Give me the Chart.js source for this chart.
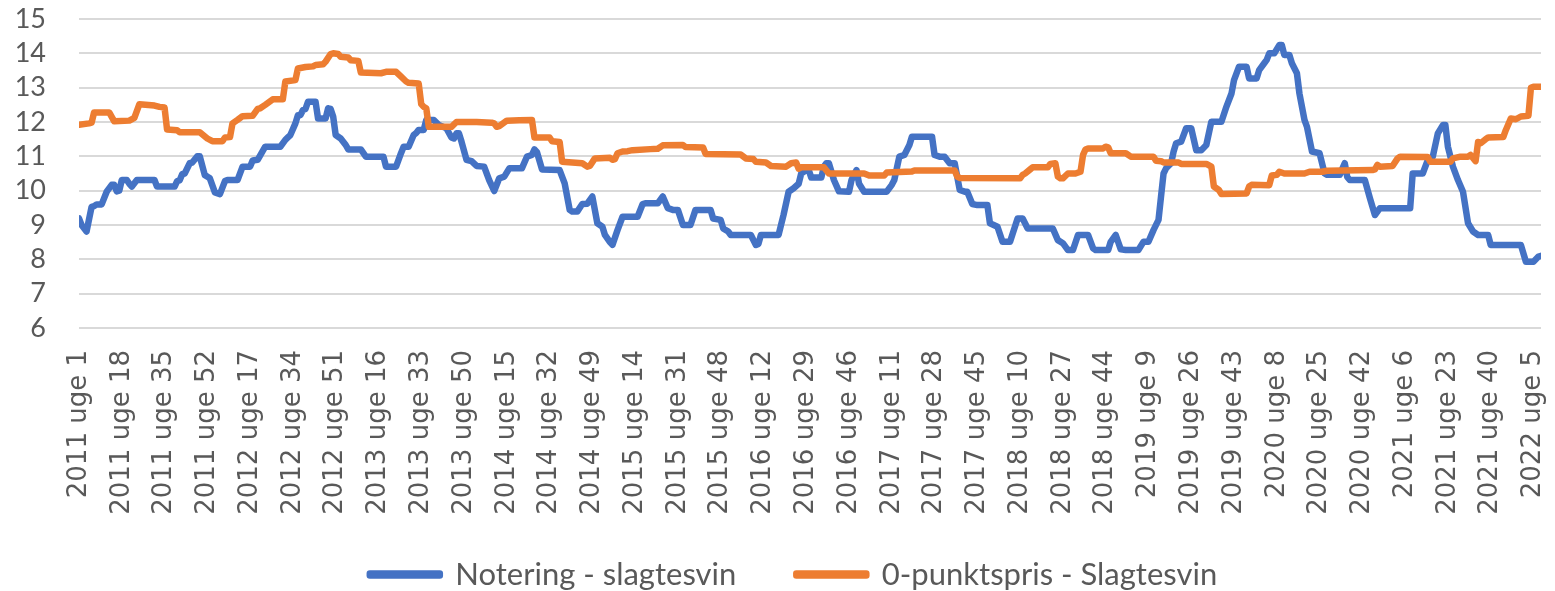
<!DOCTYPE html>
<html>
<head>
<meta charset="utf-8">
<script src="https://cdn.jsdelivr.net/npm/chart.js@4.4.0/dist/chart.umd.min.js"></script>
<style>
  html, body { margin: 0; padding: 0; background: #fff; }
</style>
</head>
<body>
<canvas id="chartLine" width="1555" height="591"></canvas>
<script>
// tick labels every 17 weeks, week index 0 = 2011 uge 1
const weekLabels = [
  "2011 uge 1", "2011 uge 18", "2011 uge 35", "2011 uge 52",
  "2012 uge 17", "2012 uge 34", "2012 uge 51",
  "2013 uge 16", "2013 uge 33", "2013 uge 50",
  "2014 uge 15", "2014 uge 32", "2014 uge 49",
  "2015 uge 14", "2015 uge 31", "2015 uge 48",
  "2016 uge 12", "2016 uge 29", "2016 uge 46",
  "2017 uge 11", "2017 uge 28", "2017 uge 45",
  "2018 uge 10", "2018 uge 27", "2018 uge 44",
  "2019 uge 9", "2019 uge 26", "2019 uge 43",
  "2020 uge 8", "2020 uge 25", "2020 uge 42",
  "2021 uge 6", "2021 uge 23", "2021 uge 40",
  "2022 uge 5"
];
const labelStep = 17;
const lastWeek = 581;

const noteringPoints = [
  [0, 9.19], [1, 9.0], [3, 8.81], [5, 9.53], [6, 9.55], [7, 9.6], [9, 9.6], [11, 9.97],
  [13, 10.17], [14, 10.17], [15, 9.98], [16, 10.0], [17, 10.31], [19, 10.31], [20, 10.2],
  [21, 10.12], [23, 10.31], [30, 10.31], [31, 10.12], [38, 10.12], [39, 10.28], [40, 10.3],
  [41, 10.48], [42, 10.5], [44, 10.8], [45, 10.82], [47, 11.0], [48, 11.0], [50, 10.45],
  [51, 10.41], [52, 10.36], [54, 9.95], [56, 9.9], [58, 10.28], [59, 10.31], [63, 10.31],
  [65, 10.7], [68, 10.7], [69, 10.88], [71, 10.9], [74, 11.28], [80, 11.28], [82, 11.48],
  [83, 11.55], [84, 11.62], [86, 11.96], [87, 12.2], [88, 12.2], [89, 12.35], [90, 12.38],
  [91, 12.59], [94, 12.59], [95, 12.1], [98, 12.1], [99, 12.4], [100, 12.38], [101, 12.16],
  [102, 11.62], [104, 11.52], [106, 11.33], [107, 11.2], [112, 11.2], [114, 10.99],
  [121, 10.99], [122, 10.7], [126, 10.7], [128, 11.1], [129, 11.28], [131, 11.28],
  [133, 11.62], [134, 11.68], [135, 11.77], [137, 11.77], [138, 12.06], [141, 12.06],
  [143, 11.91], [146, 11.82], [148, 11.55], [149, 11.52], [150, 11.67], [151, 11.67],
  [152, 11.43], [154, 10.9], [156, 10.86], [158, 10.72], [161, 10.7], [163, 10.31],
  [165, 9.99], [167, 10.36], [169, 10.41], [171, 10.65], [176, 10.65], [178, 10.99],
  [180, 11.04], [181, 11.2], [182, 11.12], [184, 10.62], [191, 10.6], [193, 10.21],
  [195, 9.44], [196, 9.39], [198, 9.39], [200, 9.61], [202, 9.62], [204, 9.83], [206, 9.05],
  [208, 8.95], [209, 8.71], [211, 8.5], [212, 8.42], [214, 8.85], [216, 9.24], [222, 9.24],
  [224, 9.61], [225, 9.63], [230, 9.63], [232, 9.83], [234, 9.49], [236, 9.44], [238, 9.44],
  [240, 9.0], [243, 9.0], [245, 9.44], [251, 9.44], [252, 9.19], [255, 9.15], [256, 8.9],
  [258, 8.81], [259, 8.71], [267, 8.71], [269, 8.42], [270, 8.45], [271, 8.71], [278, 8.71],
  [280, 9.3], [282, 9.97], [284, 10.07], [286, 10.2], [287, 10.5], [289, 10.6], [290, 10.6],
  [291, 10.38], [295, 10.38], [296, 10.7], [297, 10.8], [298, 10.8], [300, 10.31],
  [302, 9.98], [306, 9.97], [307, 10.31], [309, 10.6], [310, 10.2], [312, 9.97], [321, 9.97],
  [323, 10.17], [324, 10.31], [326, 10.99], [328, 11.04], [330, 11.33], [331, 11.57],
  [339, 11.57], [340, 11.04], [342, 10.99], [344, 10.99], [346, 10.8], [348, 10.8],
  [350, 10.02], [352, 9.97], [353, 9.97], [355, 9.61], [357, 9.58], [361, 9.58], [362, 9.05],
  [365, 8.95], [367, 8.51], [370, 8.51], [373, 9.19], [375, 9.19], [377, 8.9], [387, 8.9],
  [389, 8.56], [391, 8.47], [393, 8.27], [395, 8.27], [397, 8.71], [401, 8.71], [403, 8.32],
  [404, 8.27], [409, 8.27], [410, 8.51], [412, 8.71], [414, 8.29], [416, 8.27], [421, 8.27],
  [423, 8.51], [425, 8.51], [427, 8.85], [429, 9.15], [430, 9.83], [431, 10.5], [432, 10.65],
  [434, 10.8], [435, 11.14], [436, 11.38], [438, 11.43], [440, 11.82], [442, 11.82],
  [444, 11.18], [446, 11.18], [448, 11.33], [450, 12.01], [454, 12.01], [456, 12.45],
  [458, 12.83], [459, 13.22], [461, 13.61], [464, 13.61], [465, 13.27], [468, 13.27],
  [469, 13.51], [471, 13.71], [472, 13.81], [473, 14.0], [475, 14.0], [477, 14.24],
  [478, 14.24], [479, 13.95], [481, 13.95], [482, 13.71], [484, 13.42], [485, 12.83],
  [487, 12.06], [488, 11.86], [490, 11.14], [493, 11.09], [495, 10.5], [496, 10.46],
  [501, 10.46], [503, 10.8], [504, 10.4], [505, 10.31], [511, 10.31], [513, 9.78],
  [515, 9.29], [517, 9.49], [529, 9.49], [530, 10.5], [534, 10.5], [536, 10.89], [538, 10.99],
  [540, 11.67], [542, 11.91], [543, 11.91], [544, 11.28], [546, 10.7], [548, 10.31],
  [550, 9.97], [552, 9.05], [554, 8.81], [556, 8.71], [560, 8.71], [561, 8.42], [573, 8.42],
  [575, 7.93], [578, 7.93], [580, 8.08], [581, 8.1]
];

const nulpunktPoints = [
  [0, 11.92], [4, 11.96], [5, 11.98], [6, 12.28], [12, 12.28], [14, 12.02], [20, 12.04],
  [22, 12.12], [24, 12.52], [30, 12.48], [32, 12.44], [34, 12.42], [35, 11.78], [39, 11.76],
  [40, 11.7], [48, 11.7], [51, 11.52], [53, 11.44], [57, 11.44], [58, 11.55], [60, 11.56],
  [61, 11.96], [63, 12.06], [65, 12.17], [69, 12.18], [71, 12.38], [72, 12.4], [74, 12.5],
  [77, 12.66], [81, 12.66], [82, 13.18], [86, 13.22], [87, 13.56], [90, 13.6], [93, 13.62],
  [94, 13.66], [97, 13.68], [98, 13.76], [100, 13.98], [101, 14.0], [103, 13.98],
  [104, 13.9], [107, 13.88], [108, 13.8], [111, 13.78], [112, 13.44], [120, 13.42],
  [122, 13.46], [126, 13.46], [128, 13.32], [130, 13.18], [131, 13.14], [135, 13.12],
  [136, 12.52], [137, 12.44], [138, 12.4], [139, 11.86], [148, 11.86], [150, 12.0],
  [158, 12.0], [164, 11.98], [165, 11.96], [166, 11.86], [167, 11.88], [170, 12.04],
  [175, 12.05], [180, 12.06], [181, 11.55], [187, 11.55], [188, 11.44], [191, 11.42],
  [192, 10.84], [200, 10.8], [202, 10.7], [203, 10.72], [205, 10.94], [211, 10.96],
  [212, 10.9], [213, 10.92], [214, 11.09], [216, 11.14], [218, 11.15], [220, 11.18],
  [227, 11.21], [230, 11.22], [232, 11.32], [240, 11.33], [241, 11.27], [248, 11.26],
  [249, 11.07], [263, 11.05], [265, 10.94], [268, 10.92], [269, 10.84], [273, 10.82],
  [275, 10.72], [281, 10.7], [283, 10.8], [285, 10.82], [286, 10.64], [287, 10.68],
  [296, 10.68], [298, 10.5], [312, 10.5], [314, 10.44], [320, 10.44], [321, 10.53],
  [331, 10.56], [332, 10.59], [348, 10.59], [349, 10.41], [350, 10.37], [374, 10.36],
  [375, 10.46], [376, 10.5], [378, 10.62], [379, 10.68], [385, 10.68], [386, 10.78],
  [388, 10.8], [389, 10.41], [390, 10.36], [391, 10.36], [393, 10.5], [396, 10.5],
  [398, 10.55], [399, 11.04], [400, 11.2], [401, 11.23], [407, 11.23], [408, 11.28],
  [409, 11.26], [410, 11.09], [416, 11.09], [418, 10.99], [427, 10.99], [428, 10.87],
  [430, 10.86], [431, 10.82], [437, 10.82], [438, 10.78], [448, 10.78], [450, 10.7],
  [451, 10.12], [453, 10.02], [454, 9.9], [464, 9.92], [465, 10.12], [466, 10.17],
  [473, 10.16], [474, 10.44], [476, 10.46], [477, 10.55], [479, 10.5], [487, 10.5],
  [489, 10.55], [494, 10.55], [496, 10.58], [514, 10.6], [515, 10.62], [516, 10.75],
  [517, 10.7], [522, 10.72], [524, 10.94], [525, 10.99], [536, 10.98], [537, 10.84],
  [545, 10.84], [546, 10.94], [549, 10.99], [552, 10.99], [553, 11.04], [555, 10.86],
  [556, 11.42], [557, 11.38], [559, 11.5], [560, 11.55], [566, 11.56], [567, 11.76],
  [569, 12.1], [571, 12.08], [573, 12.16], [576, 12.18], [577, 13.0], [578, 13.03],
  [581, 13.03]
];

const yMin = 6;
const yMax = 15;

const blue = "#4472C4";
const orange = "#ED7D31";
const textGrey = "#595959";

Chart.defaults.font.family = "'DejaVu Sans', sans-serif";
Chart.defaults.font.size = 26;
Chart.defaults.color = textGrey;

// Excel puts the legend higher and a bit right of where Chart.js stacks it
const legendOffset = {
  id: "legendOffset",
  afterLayout: chartInstance => {
    const legend = chartInstance.legend;
    legend.left += 23;
    legend.right += 23;
    legend.top -= 21;
    legend.height = legend.bottom - legend.top;
  },
};

const chart = document.getElementById("chartLine").getContext("2d");

const priceChart = new Chart(chart, {
  type: "line",
  data: {
    datasets: [
      {
        label: "Notering - slagtesvin",
        data: noteringPoints,
        borderColor: blue,
        backgroundColor: blue,
        order: 2,
      },
      {
        label: "0-punktspris - Slagtesvin",
        data: nulpunktPoints,
        borderColor: orange,
        backgroundColor: orange,
        order: 1,
      },
    ],
  },
  plugins: [legendOffset],
  options: {
    responsive: false,
    animation: false,
    devicePixelRatio: 1,
    layout: {
      padding: { left: 0, right: 14, top: 19, bottom: 0 },
    },
    elements: {
      line: {
        borderWidth: 6.5,
        tension: 0,
        borderJoinStyle: "round",
        borderCapStyle: "round",
      },
      point: { radius: 0, hoverRadius: 0 },
    },
    scales: {
      x: {
        type: "linear",
        min: 0,
        max: lastWeek,
        grid: { display: false, drawTicks: false },
        border: { display: false },
        afterFit: scale => {
          scale.height = 192;
          scale.paddingLeft = 0;
          scale.paddingRight = 0;
        },
        ticks: {
          stepSize: labelStep,
          autoSkip: false,
          includeBounds: false,
          minRotation: 90,
          maxRotation: 90,
          padding: 22,
          callback: value => weekLabels[value / labelStep] ?? "",
        },
      },
      y: {
        min: yMin,
        max: yMax,
        afterFit: scale => {
          scale.width = 79;
          scale.paddingTop = 0;
          scale.paddingBottom = 0;
        },
        grid: { color: "#D9D9D9", lineWidth: 2, drawTicks: false },
        border: { display: false },
        ticks: {
          stepSize: 1,
          autoSkip: false,
          padding: 33,
          font: { family: "Lato", size: 27 },
        },
      },
    },
    plugins: {
      legend: {
        position: "bottom",
        maxHeight: 71,
        labels: {
          boxWidth: 70,
          boxHeight: 2,
          padding: 60,
          color: textGrey,
          font: { family: "Lato", size: 31 },
          sort: (a, b) => a.datasetIndex - b.datasetIndex,
        },
      },
      tooltip: { enabled: false },
    },
  },
});
</script>
</body>
</html>
